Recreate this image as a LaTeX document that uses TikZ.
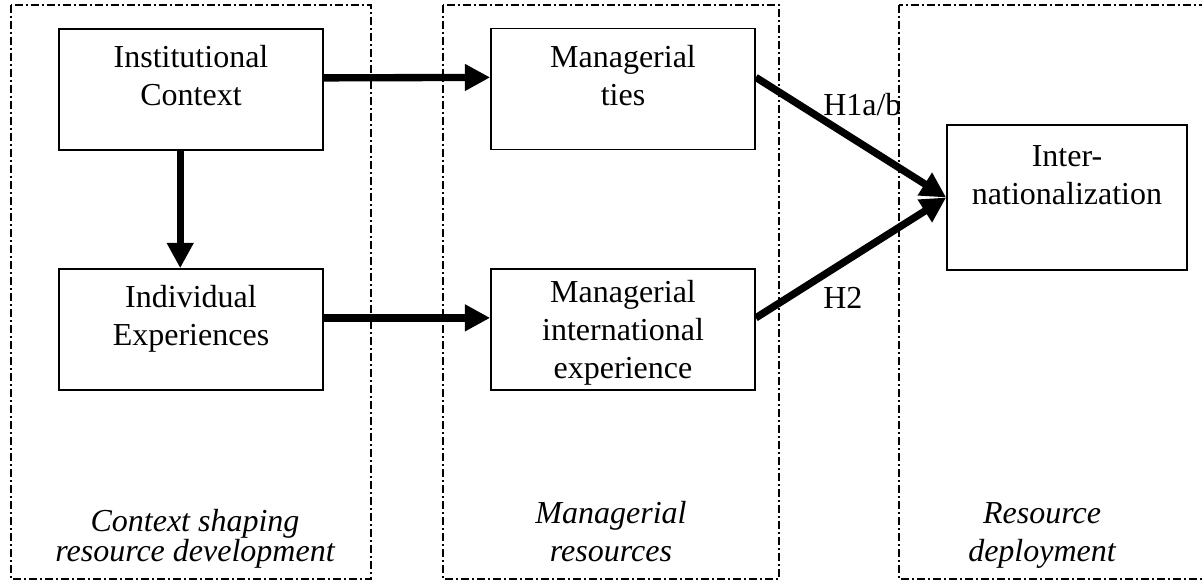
\documentclass[tikz,border=0pt]{standalone}
\usepackage{fontspec}
\setmainfont{Liberation Serif}
\usepackage{tikz}
\usetikzlibrary{arrows.meta, positioning}

\begin{document}
\begin{tikzpicture}[
    x=0.75pt, y=-0.75pt,
    every node/.style={font=\fontsize{24}{28.5}\selectfont},
    box/.style={draw, line width=1.2pt, inner sep=0pt, minimum width=198pt, minimum height=90.75pt, align=center, text depth=21pt},
    frame/.style={line width=1.1pt, dash pattern=on 6pt off 2.25pt on 1.5pt off 2.25pt},
    phase/.style={font=\fontsize{24}{28.5}\selectfont\itshape, align=center, anchor=south, inner sep=0pt, text depth=0pt},
    arrow/.style={-{Triangle[length=19pt, width=19pt]}, line width=5.5pt}
]
    \useasboundingbox (0,0) rectangle (1202,581);

    % Phase frames
    \draw[frame] (11,5) rectangle (371,579);
    \draw[frame] (443,5) rectangle (779,579);
    \draw[frame] (899,5) rectangle (1215,579);

    % Constructs
    \node[box] (inst) at (191,89.5) {Institutional\\Context};
    \node[box] (indiv) at (191,329.5) {Individual\\Experiences};
    \node[box] (ties) at (623,89) {Managerial\\ties};
    \node[box, text depth=0pt] (mie) at (623,329.5) {Managerial\\international\\experience};
    \node[box, minimum width=180pt, minimum height=108.75pt, text depth=34pt] (inter) at (1067,197.5) {Inter-\\nationalization};

    % Arrows
    \draw[arrow] (inst.5) -- (ties.175);
    \draw[arrow] (inst.260) -- (indiv.100);
    \draw[arrow] (indiv.5) -- (mie.175);
    \draw[arrow] (ties.5) -- (inter.west);
    \draw[arrow] (mie.5) -- (inter.west);

    % Hypotheses
    \node[anchor=base west, inner sep=0pt] (h1) at (823,116) {H1a/b};
    \node[anchor=base west, inner sep=0pt] (h2) at (823,308) {H2};

    % Phase labels
    \node[phase] (context) at (195,562) {Context shaping\\[-6pt]resource development};
    \node[phase] (managerial) at (611,562) {Managerial\\resources};
    \node[phase] (deployment) at (1042,562) {Resource\\deployment};
\end{tikzpicture}
\end{document}
